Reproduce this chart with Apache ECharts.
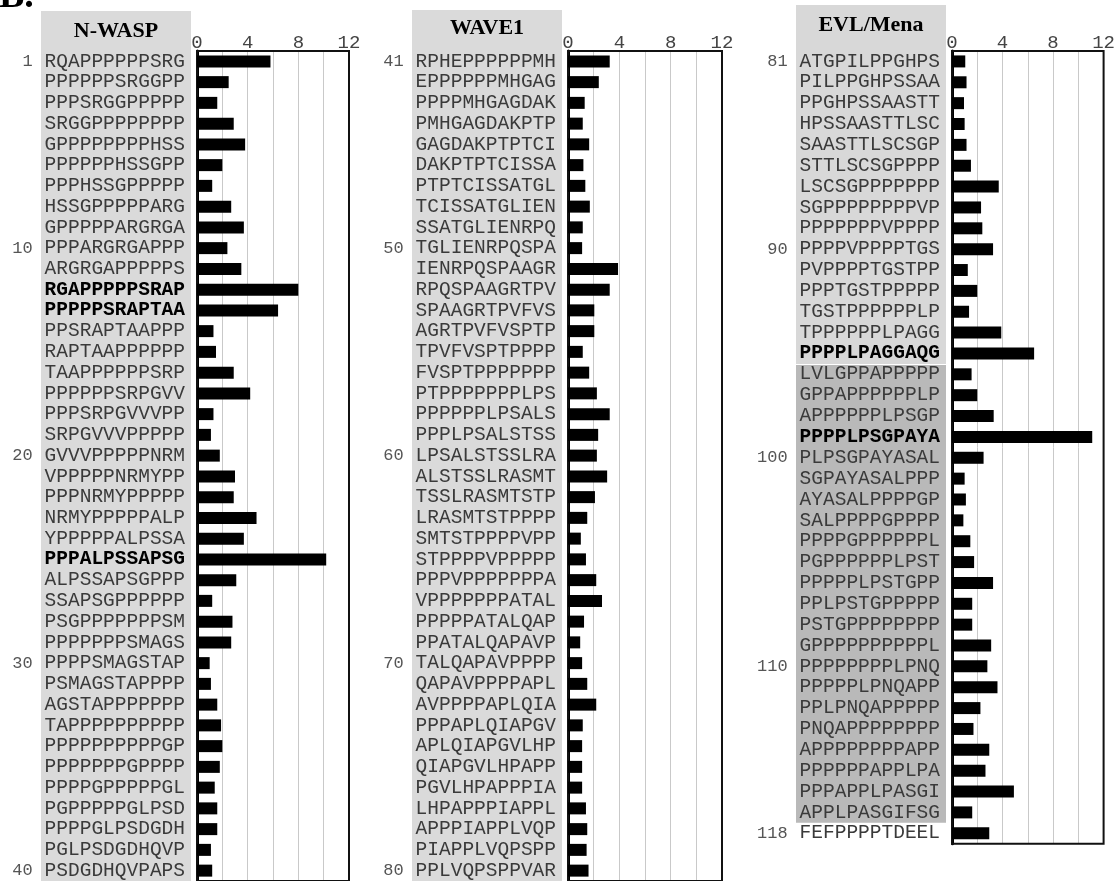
<!DOCTYPE html>
<html><head><meta charset="utf-8">
<script src="https://cdn.jsdelivr.net/npm/echarts@6/dist/echarts.min.js"></script>
<style>html,body{margin:0;padding:0;background:#fff}#c{width:1118px;height:881px}</style>
</head><body><div id="c"></div>
<script>
// ---------------- DATA ----------------
const panelTitles = ['N-WASP', 'WAVE1', 'EVL/Mena'];
const startNumbers = [1, 41, 81];
const xTickLabels = [0, 4, 8, 12];
const numberedRows = [1, 10, 20, 30, 40, 41, 50, 60, 70, 80, 81, 90, 100, 110, 118];
const boldRows = [12, 13, 25, 95, 99];
const darkBandRows = [96, 117]; // first & last row of darker shading (EVL/Mena)

const nwaspSeqs = [
  'RQAPPPPPPSRG','PPPPPPSRGGPP','PPPSRGGPPPPP','SRGGPPPPPPPP','GPPPPPPPPHSS',
  'PPPPPPHSSGPP','PPPHSSGPPPPP','HSSGPPPPPARG','GPPPPPARGRGA','PPPARGRGAPPP',
  'ARGRGAPPPPPS','RGAPPPPPSRAP','PPPPPSRAPTAA','PPSRAPTAAPPP','RAPTAAPPPPPP',
  'TAAPPPPPPSRP','PPPPPPSRPGVV','PPPSRPGVVVPP','SRPGVVVPPPPP','GVVVPPPPPNRM',
  'VPPPPPNRMYPP','PPPNRMYPPPPP','NRMYPPPPPALP','YPPPPPALPSSA','PPPALPSSAPSG',
  'ALPSSAPSGPPP','SSAPSGPPPPPP','PSGPPPPPPPSM','PPPPPPPSMAGS','PPPPSMAGSTAP',
  'PSMAGSTAPPPP','AGSTAPPPPPPP','TAPPPPPPPPPP','PPPPPPPPPPGP','PPPPPPPGPPPP',
  'PPPPGPPPPPGL','PGPPPPPGLPSD','PPPPGLPSDGDH','PGLPSDGDHQVP','PSDGDHQVPAPS'
];
const nwaspValues = [
  5.8, 2.5, 1.6, 2.9, 3.8, 2.0, 1.2, 2.7, 3.7, 2.4,
  3.5, 8.0, 6.4, 1.3, 1.5, 2.9, 4.2, 1.3, 1.1, 1.8,
  3.0, 2.9, 4.7, 3.7, 10.2, 3.1, 1.2, 2.8, 2.7, 1.0,
  1.1, 1.6, 1.9, 2.0, 1.8, 1.4, 1.6, 1.6, 1.1, 1.2
];

const wave1Seqs = [
  'RPHEPPPPPPMH','EPPPPPPMHGAG','PPPPMHGAGDAK','PMHGAGDAKPTP','GAGDAKPTPTCI',
  'DAKPTPTCISSA','PTPTCISSATGL','TCISSATGLIEN','SSATGLIENRPQ','TGLIENRPQSPA',
  'IENRPQSPAAGR','RPQSPAAGRTPV','SPAAGRTPVFVS','AGRTPVFVSPTP','TPVFVSPTPPPP',
  'FVSPTPPPPPPP','PTPPPPPPPLPS','PPPPPPLPSALS','PPPLPSALSTSS','LPSALSTSSLRA',
  'ALSTSSLRASMT','TSSLRASMTSTP','LRASMTSTPPPP','SMTSTPPPPVPP','STPPPPVPPPPP',
  'PPPVPPPPPPPA','VPPPPPPPATAL','PPPPPATALQAP','PPATALQAPAVP','TALQAPAVPPPP',
  'QAPAVPPPPAPL','AVPPPPAPLQIA','PPPAPLQIAPGV','APLQIAPGVLHP','QIAPGVLHPAPP',
  'PGVLHPAPPPIA','LHPAPPPIAPPL','APPPIAPPLVQP','PIAPPLVQPSPP','PPLVQPSPPVAR'
];
const wave1Values = [
  3.25, 2.4, 1.3, 1.15, 1.65, 1.2, 1.35, 1.7, 1.15, 1.1,
  3.9, 3.25, 2.05, 2.05, 1.15, 1.65, 2.25, 3.25, 2.35, 2.25,
  3.05, 2.1, 1.5, 1.0, 1.4, 2.2, 2.65, 1.25, 0.95, 1.1,
  1.5, 2.2, 1.15, 1.1, 1.1, 1.1, 1.4, 1.5, 1.45, 1.6
];

const evlSeqs = [
  'ATGPILPPGHPS','PILPPGHPSSAA','PPGHPSSAASTT','HPSSAASTTLSC','SAASTTLSCSGP',
  'STTLSCSGPPPP','LSCSGPPPPPPP','SGPPPPPPPPVP','PPPPPPPVPPPP','PPPPVPPPPTGS',
  'PVPPPPTGSTPP','PPPTGSTPPPPP','TGSTPPPPPPLP','TPPPPPPLPAGG','PPPPLPAGGAQG',
  'LVLGPPAPPPPP','GPPAPPPPPPLP','APPPPPPLPSGP','PPPPLPSGPAYA','PLPSGPAYASAL',
  'SGPAYASALPPP','AYASALPPPPGP','SALPPPPGPPPP','PPPPGPPPPPPL','PGPPPPPPLPST',
  'PPPPPLPSTGPP','PPLPSTGPPPPP','PSTGPPPPPPPP','GPPPPPPPPPPL','PPPPPPPPLPNQ',
  'PPPPPLPNQAPP','PPLPNQAPPPPP','PNQAPPPPPPPP','APPPPPPPPAPP','PPPPPPAPPLPA',
  'PPPAPPLPASGI','APPLPASGIFSG','FEFPPPPTDEEL'
];
const evlValues = [
  1.05, 1.15, 0.95, 1.0, 1.15, 1.5, 3.7, 2.3, 2.4, 3.25,
  1.25, 2.0, 1.35, 3.9, 6.5, 1.55, 2.0, 3.3, 11.1, 2.5,
  1.0, 1.1, 0.9, 1.45, 1.75, 3.25, 1.6, 1.6, 3.1, 2.8,
  3.6, 2.25, 1.7, 2.95, 2.65, 4.9, 1.6, 2.95
];

const panelSeqs = [nwaspSeqs, wave1Seqs, evlSeqs];
const panelValues = [nwaspValues, wave1Values, evlValues];

// ---------------- LAYOUT ----------------
const ROW_H = 20.86;
const GRID_TOP = 51;
const gridLefts = [197, 568, 952];
const gridWidths = [152, 154, 154];
const titleYs = [31, 28, 25];
const grayTops = [11, 10, 5];
const MONO = '"Liberation Mono", "DejaVu Sans Mono", monospace';
const SERIF = '"Liberation Serif", "DejaVu Serif", serif';

const chart = echarts.init(document.getElementById('c'), null, {renderer: 'canvas'});

const grids = [], xAxes = [], yAxes = [], series = [];
for (let i = 0; i < 3; i++) {
  const seqs = panelSeqs[i];
  grids.push({
    left: gridLefts[i], top: GRID_TOP, width: gridWidths[i], height: seqs.length * ROW_H,
    show: true, borderColor: '#111', borderWidth: 2, backgroundColor: 'transparent', z: 3
  });
  xAxes.push({
    gridIndex: i, type: 'value', position: 'top', min: 0, max: 12, interval: 2,
    axisLine: {show: false}, axisTick: {show: false},
    splitLine: {show: true, lineStyle: {color: '#c9c9c9', width: 1}},
    axisLabel: {
      formatter: v => xTickLabels.includes(v) ? String(v) : '',
      fontFamily: MONO, fontSize: 19, color: '#444', margin: -1
    }
  });
  const start = startNumbers[i];
  yAxes.push({
    gridIndex: i, type: 'category', inverse: true, data: seqs,
    axisLine: {show: true, lineStyle: {color: '#000', width: 3}},
    axisTick: {show: false}, splitLine: {show: false},
    axisLabel: {
      margin: 12, interval: 0,
      formatter: (val, idx) => {
        const n = start + idx;
        const style = boldRows.includes(n) ? 'seqb' : 'seq';
        const seq = '{' + style + '|' + val + '}';
        return numberedRows.includes(n) ? '{num|' + n + '}' + seq : seq;
      },
      rich: {
        num: {fontFamily: MONO, fontSize: 17, color: '#555', padding: [0, 12, 0, 0]},
        seq: {fontFamily: MONO, fontSize: 19.5, color: '#3a3a3a'},
        seqb: {fontFamily: MONO, fontSize: 19.5, color: '#000', fontWeight: 'bold'}
      }
    }
  });
  series.push({
    type: 'bar', xAxisIndex: i, yAxisIndex: i, data: panelValues[i],
    barWidth: 12, itemStyle: {color: '#000'}, silent: true, z: 4
  });
}

chart.setOption({
  animation: false,
  backgroundColor: '#fff',
  grid: grids, xAxis: xAxes, yAxis: yAxes, series: series
});

// background shading & titles, positioned from the axes
function bandEdge(i, idx, side) {
  const c = chart.convertToPixel({yAxisIndex: i}, idx);
  return c + side * ROW_H / 2;
}
const graphics = [];
for (let i = 0; i < 3; i++) {
  const gx = gridLefts[i] - 156, gw = 150;
  const n = panelSeqs[i].length;
  let bottom;
  if (i === 2) {
    const lastLight = darkBandRows[0] - startNumbers[i] - 1;
    bottom = bandEdge(i, lastLight, 1);
    const dTop = bandEdge(i, darkBandRows[0] - startNumbers[i], -1) + 1;
    const dBot = bandEdge(i, darkBandRows[1] - startNumbers[i], 1);
    graphics.push({type: 'rect', z: -10, shape: {x: gx, y: dTop, width: gw, height: dBot - dTop},
      style: {fill: '#b9b9b9'}});
  } else {
    bottom = bandEdge(i, n - 1, 1) + 10;
  }
  graphics.push({type: 'rect', z: -10, shape: {x: gx, y: grayTops[i], width: gw, height: bottom - grayTops[i]},
    style: {fill: i === 2 ? '#d8d8d8' : '#dadada'}});
  graphics.push({type: 'text', z: 10, x: gx + gw / 2, y: titleYs[i],
    style: {text: panelTitles[i], font: 'bold 22px ' + SERIF, fill: '#000', align: 'center', verticalAlign: 'middle'}});
}
graphics.push({type: 'text', z: 10, x: -1, y: -22,
  style: {text: 'B.', font: 'bold 38px ' + SERIF, fill: '#000', align: 'left', verticalAlign: 'top'}});
chart.setOption({graphic: graphics});
</script></body></html>
